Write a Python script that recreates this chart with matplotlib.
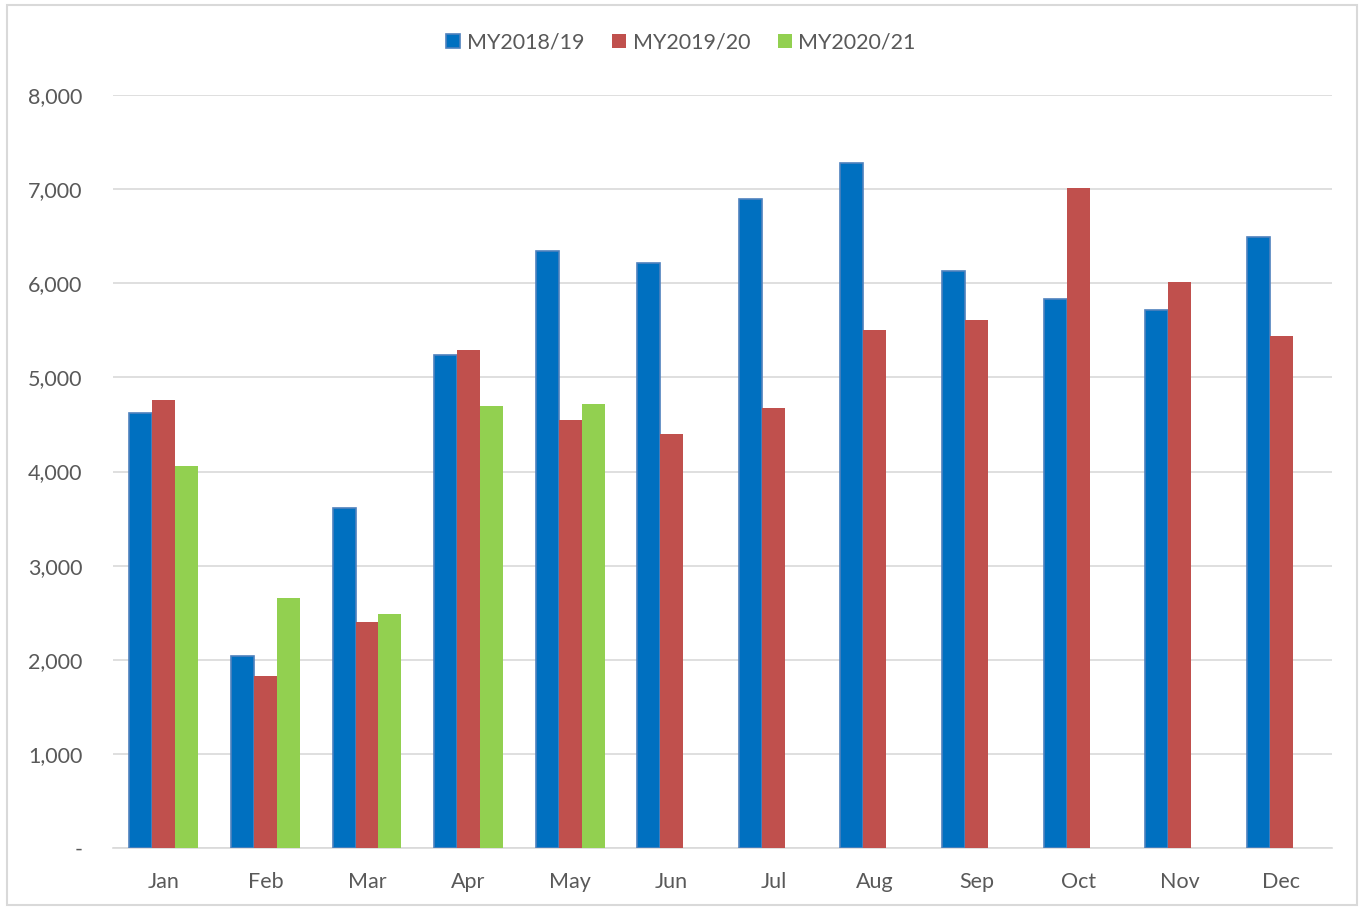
import matplotlib.pyplot as plt
import numpy as np
from matplotlib.patches import Rectangle
from matplotlib.ticker import FuncFormatter

months = ['Jan', 'Feb', 'Mar', 'Apr', 'May', 'Jun', 'Jul', 'Aug', 'Sep', 'Oct', 'Nov', 'Dec']
my2018 = [4620, 2040, 3610, 5240, 6340, 6210, 6900, 7280, 6130, 5830, 5720, 6490]
my2019 = [4760, 1830, 2400, 5290, 4550, 4400, 4680, 5500, 5610, 7010, 6010, 5440]
my2020 = [4060, 2660, 2490, 4700, 4720]
series_names = ['MY2018/19', 'MY2019/20', 'MY2020/21']

plt.rcParams['font.family'] = ['Lato', 'DejaVu Sans']

fig = plt.figure(figsize=(13.62, 9.09), dpi=100)
ax = fig.add_axes([0.083, 0.067, 0.895, 0.8285])

x = np.arange(len(months))
w = 0.226
ax.bar(x - w, my2018, w, color='#0070C0', edgecolor='#4F81BD', linewidth=1.2,
       label=series_names[0], zorder=3)
ax.bar(x, my2019, w, color='#C0504D', label=series_names[1], zorder=3)
ax.bar(np.arange(len(my2020)) + w, my2020, w, color='#92D050',
       label=series_names[2], zorder=3)

ax.set_xlim(-0.5, len(months) - 0.5)
ax.set_ylim(0, 8000)
ax.set_yticks(np.arange(0, 8001, 1000))
ax.yaxis.set_major_formatter(FuncFormatter(lambda v, p: '-' if v == 0 else f'{int(v):,}'))
ax.set_xticks(x)
ax.set_xticklabels(months)
ax.grid(axis='y', color='#D9D9D9', linewidth=1.2, zorder=0)
for s in ['top', 'right', 'left']:
    ax.spines[s].set_visible(False)
ax.spines['bottom'].set_color('#D9D9D9')
ax.spines['bottom'].set_linewidth(1.2)
ax.tick_params(axis='both', length=0, labelsize=15.5, colors='#595959')
ax.tick_params(axis='x', pad=17)
ax.tick_params(axis='y', pad=22)

fig.legend(loc='center', bbox_to_anchor=(0.5, 0.953), ncol=3, frameon=False,
           fontsize=15.5, handlelength=0.65, handleheight=0.65, handletextpad=0.3,
           columnspacing=1.3, labelcolor='#595959')

fig.patches.append(Rectangle((0.005, 0.004), 0.991, 0.99, transform=fig.transFigure,
                             fill=False, edgecolor='#D9D9D9', linewidth=1.5))

fig.savefig('out.png', dpi=100)
